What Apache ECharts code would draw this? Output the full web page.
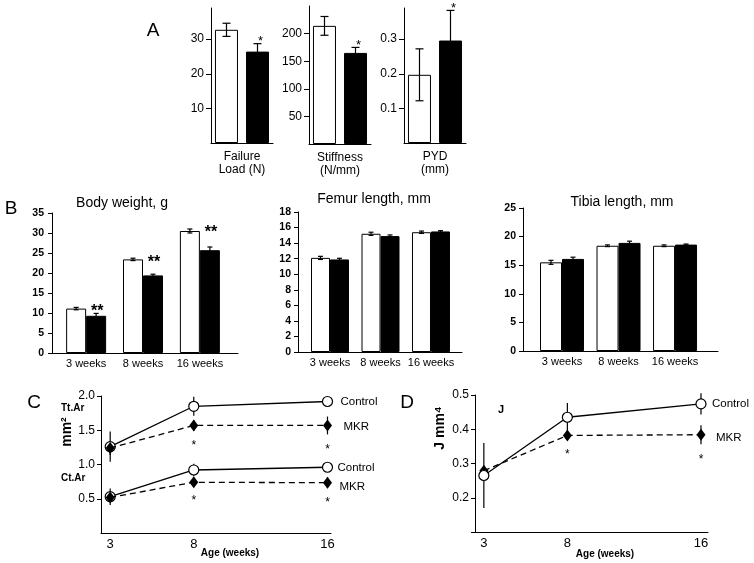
<!DOCTYPE html>
<html lang="en">
<head>
<meta charset="UTF-8">
<title>MKR bone phenotype</title>
<script src="https://cdn.jsdelivr.net/npm/echarts@6/dist/echarts.min.js"></script>
<style>html,body{margin:0;padding:0;background:#fff}</style>
</head>
<body>
<div id="main" style="width:754px;height:563px;"></div>
<script>
// ---- panel A: mechanical testing (control = white, MKR = black)
var aNames = ['Failure\nLoad (N)', 'Stiffness\n(N/mm)', 'PYD\n(mm)'];
var aCtrl = [32.7, 214, 0.197];
var aCtrlErr = [1.9, 17, 0.075];
var aMkr = [26.4, 165, 0.296];
var aMkrErr = [2.3, 10, 0.087];
var aTicks = [[10, 20, 30], [50, 100, 150, 200], [0.1, 0.2, 0.3]];

// ---- panel B: growth
var weeks = ['3 weeks', '8 weeks', '16 weeks'];
var bodyCtrl = [11.1, 23.4, 30.5];
var bodyCtrlErr = [0.3, 0.3, 0.5];
var bodyMkr = [9.3, 19.4, 25.7];
var bodyMkrErr = [0.6, 0.3, 0.8];
var femurCtrl = [12.1, 15.2, 15.4];
var femurCtrlErr = [0.2, 0.2, 0.15];
var femurMkr = [11.9, 14.9, 15.5];
var femurMkrErr = [0.15, 0.15, 0.1];
var tibiaCtrl = [15.5, 18.4, 18.4];
var tibiaCtrlErr = [0.35, 0.15, 0.15];
var tibiaMkr = [16.1, 18.9, 18.6];
var tibiaMkrErr = [0.3, 0.3, 0.1];

// ---- panels C and D: cortical geometry by age
var ages = [3, 8, 16];
var ttCtrl = [1.26, 1.85, 1.92];
var ttCtrlErr = [0.22, 0.14, 0.04];
var ttMkr = [1.24, 1.57, 1.57];
var ttMkrErr = [0.1, 0.08, 0.13];
var ctCtrl = [0.53, 0.92, 0.96];
var ctCtrlErr = [0.12, 0.09, 0.03];
var ctMkr = [0.52, 0.74, 0.735];
var ctMkrErr = [0.06, 0.05, 0.08];
var jCtrl = [0.265, 0.435, 0.474];
var jCtrlErr = [0.095, 0.042, 0.031];
var jMkr = [0.279, 0.382, 0.384];
var jMkrErr = [0.01, 0.012, 0.028];

var FONT = "'Liberation Sans', Arial, sans-serif";
var chart = echarts.init(document.getElementById('main'));

function errBars(g, xs, means, errs, dx, cap, z) {
  return {
    type: 'custom', xAxisIndex: g, yAxisIndex: g, z: z || 4, silent: true,
    data: means.map(function (m, i) { return [xs[i], m - errs[i], m + errs[i]]; }),
    encode: { x: 0, y: [1, 2] },
    renderItem: function (params, api) {
      var lo = api.coord([api.value(0), api.value(1)]);
      var hi = api.coord([api.value(0), api.value(2)]);
      var x = lo[0] + dx;
      var st = { stroke: '#000', lineWidth: 1.2 };
      var kids = [{ type: 'line', shape: { x1: x, y1: lo[1], x2: x, y2: hi[1] }, style: st }];
      if (cap) {
        kids.push({ type: 'line', shape: { x1: x - cap / 2, y1: lo[1], x2: x + cap / 2, y2: lo[1] }, style: st });
        kids.push({ type: 'line', shape: { x1: x - cap / 2, y1: hi[1], x2: x + cap / 2, y2: hi[1] }, style: st });
      }
      return { type: 'group', children: kids };
    }
  };
}

function stars(g, xs, ys, text, dx, dy, font) {
  return {
    type: 'custom', xAxisIndex: g, yAxisIndex: g, z: 5, silent: true,
    data: xs.map(function (x, i) { return [x, ys[i]]; }),
    renderItem: function (params, api) {
      var p = api.coord([api.value(0), api.value(1)]);
      return {
        type: 'text', x: p[0] + dx, y: p[1] + dy,
        style: { text: text, font: font, fill: '#000', textAlign: 'center', textVerticalAlign: 'middle', align: 'center', verticalAlign: 'middle' }
      };
    }
  };
}

var grids = [
  { left: 211, top: 8, width: 62, height: 135 },
  { left: 309, top: 6, width: 62, height: 138 },
  { left: 404, top: 8, width: 62, height: 135 },
  { left: 52, top: 213, width: 186, height: 140 },
  { left: 298, top: 212, width: 164, height: 140 },
  { left: 523, top: 208, width: 195, height: 143 },
  { left: 101, top: 396, width: 230, height: 137 },
  { left: 475, top: 395, width: 233, height: 137 }
];
grids.forEach(function (g) { g.outerBoundsMode = 'none'; g.containLabel = false; });

var xAxes = [], yAxes = [], series = [];
var axisLine = { show: true, onZero: false, lineStyle: { color: '#000', width: 1 } };

// panel A
var aMax = [39, 250, 0.39];
for (var i = 0; i < 3; i++) {
  xAxes.push({
    type: 'category', gridIndex: i, data: [aNames[i]], axisTick: { show: false }, axisLine: axisLine,
    axisLabel: { color: '#000', fontSize: 12, fontFamily: FONT, margin: 7, lineHeight: 13, interval: 0 }
  });
  yAxes.push({
    type: 'value', gridIndex: i, min: 0, max: aMax[i], splitLine: { show: false }, axisLine: axisLine,
    axisTick: { show: true, length: 5, customValues: aTicks[i], lineStyle: { color: '#000' } },
    axisLabel: { customValues: aTicks[i], color: '#000', fontSize: 12, fontFamily: FONT, margin: 7 }
  });
  series.push({ type: 'bar', xAxisIndex: i, yAxisIndex: i, data: [aCtrl[i]], barWidth: 23, barGap: '35%',
    itemStyle: { color: '#fff', borderColor: '#000', borderWidth: 1 } });
  series.push({ type: 'bar', xAxisIndex: i, yAxisIndex: i, data: [aMkr[i]], barWidth: 23, barGap: '35%',
    itemStyle: { color: '#000', borderColor: '#000', borderWidth: 1 } });
  series.push(errBars(i, [0], [aCtrl[i]], [aCtrlErr[i]], -15.5, 8));
  series.push(errBars(i, [0], [aMkr[i]], [aMkrErr[i]], 15.5, 8));
  series.push(stars(i, [0], [aMkr[i] + aMkrErr[i]], '*', 18.5, -2, '13px ' + FONT));
}

// panel B
var bSets = [
  { g: 3, ctrl: bodyCtrl, ce: bodyCtrlErr, mkr: bodyMkr, me: bodyMkrErr, max: 35, step: 5, xmin: -0.6, xmax: 2.67, bw: 20, star: true, lm: 8 },
  { g: 4, ctrl: femurCtrl, ce: femurCtrlErr, mkr: femurMkr, me: femurMkrErr, max: 18, step: 2, xmin: -0.634, xmax: 2.614, bw: 19, star: false, lm: 7 },
  { g: 5, ctrl: tibiaCtrl, ce: tibiaCtrlErr, mkr: tibiaMkr, me: tibiaMkrErr, max: 25, step: 5, xmin: -0.69, xmax: 2.76, bw: 22, star: false, lm: 7 }
];
bSets.forEach(function (s) {
  var idx = [0, 1, 2];
  xAxes.push({
    type: 'value', gridIndex: s.g, min: s.xmin, max: s.xmax, splitLine: { show: false }, axisTick: { show: false }, axisLine: axisLine,
    axisLabel: { customValues: idx, formatter: function (v) { return weeks[Math.round(v)]; }, color: '#000', fontSize: 11, fontFamily: FONT, margin: 5 }
  });
  yAxes.push({
    type: 'value', gridIndex: s.g, min: 0, max: s.max, interval: s.step, splitLine: { show: false }, axisLine: axisLine,
    axisTick: { show: true, length: 4, lineStyle: { color: '#000' } },
    axisLabel: { color: '#000', fontSize: 10.5, fontWeight: 'bold', fontFamily: FONT, margin: s.lm }
  });
  series.push({ type: 'bar', xAxisIndex: s.g, yAxisIndex: s.g, data: idx.map(function (k) { return [k, s.ctrl[k]]; }),
    barWidth: s.bw, barGap: '0%', itemStyle: { color: '#fff', borderColor: '#000', borderWidth: 1 } });
  series.push({ type: 'bar', xAxisIndex: s.g, yAxisIndex: s.g, data: idx.map(function (k) { return [k, s.mkr[k]]; }),
    barWidth: s.bw, barGap: '0%', itemStyle: { color: '#000', borderColor: '#000', borderWidth: 1 } });
  series.push(errBars(s.g, idx, s.ctrl, s.ce, -s.bw / 2, 5));
  series.push(errBars(s.g, idx, s.mkr, s.me, s.bw / 2, 5));
  if (s.star) {
    series.push(stars(s.g, idx, s.ctrl.map(function (v, k) { return v + s.ce[k]; }), '**', s.bw / 2 + 1, 4, 'bold 16px ' + FONT));
  }
});

// panels C and D
function lineSeries(g, vals, ctrl, dist, dy, z) {
  return {
    type: 'line', xAxisIndex: g, yAxisIndex: g, z: z, silent: true,
    data: ages.map(function (a, k) { return [a, vals[k]]; }),
    symbol: ctrl ? 'circle' : 'diamond', symbolSize: ctrl ? 10 : [9, 12], showSymbol: true,
    itemStyle: ctrl ? { color: '#fff', borderColor: '#000', borderWidth: 1.2 } : { color: '#000', borderColor: '#000', borderWidth: 0 },
    lineStyle: { color: '#000', width: 1.3, type: ctrl ? 'solid' : [6, 4] },
    endLabel: { show: true, formatter: ctrl ? 'Control' : 'MKR', distance: dist, offset: [0, dy], color: '#000', fontSize: 11.5, fontFamily: FONT }
  };
}
var cdAxes = [
  { g: 6, xmin: 2.45, xmax: 16.21, ymin: 0, ymax: 2, labels: [0.5, 1, 1.5, 2], ticks: [0.5, 1, 1.5, 2] },
  { g: 7, xmin: 2.47, xmax: 16.42, ymin: 0.1, ymax: 0.5, labels: [0.2, 0.3, 0.4, 0.5], ticks: [0.1, 0.2, 0.3, 0.4, 0.5] }
];
cdAxes.forEach(function (s) {
  xAxes.push({
    type: 'value', gridIndex: s.g, min: s.xmin, max: s.xmax, splitLine: { show: false }, axisTick: { show: false }, axisLine: axisLine,
    axisLabel: { customValues: ages, color: '#000', fontSize: 13, fontFamily: FONT, margin: 5 }
  });
  yAxes.push({
    type: 'value', gridIndex: s.g, min: s.ymin, max: s.ymax, splitLine: { show: false }, axisLine: axisLine,
    axisTick: { show: true, length: 4, customValues: s.ticks, lineStyle: { color: '#000' } },
    axisLabel: { customValues: s.labels, formatter: function (v) { return v.toFixed(1); }, color: '#000', fontSize: 12, fontFamily: FONT, margin: 6 }
  });
});

// C: MKR diamonds sit on top of the control circles at 3 weeks
series.push(errBars(6, ages, ttCtrl, ttCtrlErr, 0, 0, 1));
series.push(errBars(6, ages, ttMkr, ttMkrErr, 0, 0, 1));
series.push(errBars(6, ages, ctCtrl, ctCtrlErr, 0, 0, 1));
series.push(errBars(6, ages, ctMkr, ctMkrErr, 0, 0, 1));
series.push(lineSeries(6, ttCtrl, true, 13, 0, 3));
series.push(lineSeries(6, ttMkr, false, 16, 1, 4));
series.push(lineSeries(6, ctCtrl, true, 10, 1, 3));
series.push(lineSeries(6, ctMkr, false, 12, 4, 4));
series.push(stars(6, [8, 16], [ttMkr[1] - ttMkrErr[1], ttMkr[2] - ttMkrErr[2]], '*', 0, 15, '12px ' + FONT));
series.push(stars(6, [8, 16], [ctMkr[1] - ctMkrErr[1], ctMkr[2] - ctMkrErr[2]], '*', 0, 15, '12px ' + FONT));

// D: the control circle is drawn over the diamond
series.push(errBars(7, ages, jCtrl, jCtrlErr, 0, 0, 1));
series.push(errBars(7, ages, jMkr, jMkrErr, 0, 0, 1));
series.push(lineSeries(7, jMkr, false, 15, 3, 3));
series.push(lineSeries(7, jCtrl, true, 11, 0, 4));
series.push(stars(7, [8, 16], [jMkr[1] - jMkrErr[1], jMkr[2] - jMkrErr[2]], '*', 0, 15, '12px ' + FONT));

function txt(x, y, s, font, extra) {
  var el = { type: 'text', x: x, y: y, silent: true,
    style: { text: s, font: font, fill: '#000', textAlign: 'center', textVerticalAlign: 'middle', align: 'center', verticalAlign: 'middle' } };
  if (extra) {
    if (extra.rotation) el.rotation = extra.rotation;
    if (extra.align) { el.style.textAlign = extra.align; el.style.align = extra.align; }
  }
  return el;
}

var option = {
  animation: false,
  textStyle: { fontFamily: FONT },
  grid: grids,
  xAxis: xAxes,
  yAxis: yAxes,
  series: series,
  graphic: [
    txt(153, 31, 'A', '19px ' + FONT),
    txt(11, 209, 'B', '19px ' + FONT),
    txt(34, 403, 'C', '19px ' + FONT),
    txt(407, 403, 'D', '19px ' + FONT),
    txt(122, 203, 'Body weight, g', '14px ' + FONT),
    txt(374, 199, 'Femur length, mm', '14px ' + FONT),
    txt(622, 202, 'Tibia length, mm', '14px ' + FONT),
    txt(61, 408, 'Tt.Ar', 'bold 10px ' + FONT, { align: 'left' }),
    txt(61, 478, 'Ct.Ar', 'bold 10px ' + FONT, { align: 'left' }),
    txt(501, 410, 'J', 'bold 11px ' + FONT),
    txt(67, 432, 'mm²', 'bold 14px ' + FONT, { rotation: Math.PI / 2 }),
    txt(440, 428, 'J mm⁴', 'bold 14px ' + FONT, { rotation: Math.PI / 2 }),
    txt(230, 553, 'Age (weeks)', 'bold 10px ' + FONT),
    txt(605, 554, 'Age (weeks)', 'bold 10px ' + FONT)
  ]
};

chart.setOption(option);
</script>
</body>
</html>
